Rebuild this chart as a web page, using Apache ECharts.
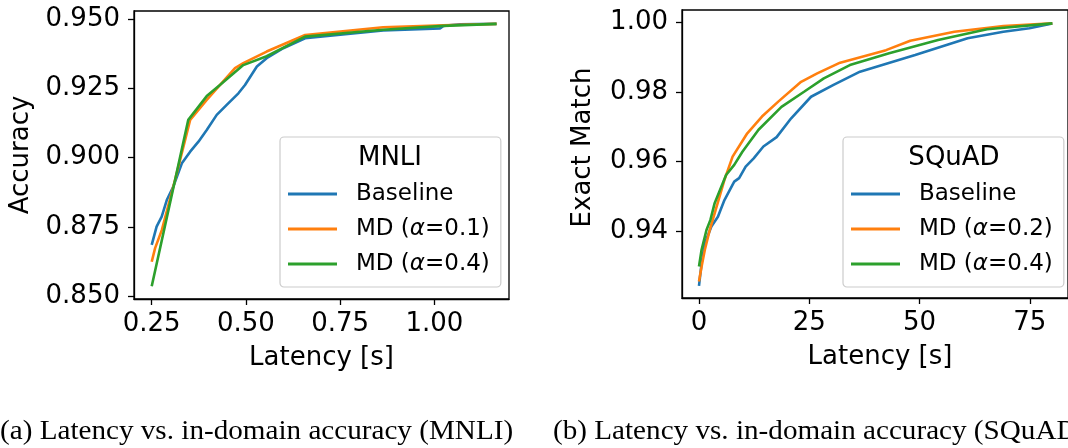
<!DOCTYPE html>
<html>
<head>
<meta charset="utf-8">
<script src="https://cdn.jsdelivr.net/npm/echarts@6/dist/echarts.min.js"></script>
<style>
html,body{margin:0;padding:0;background:#fff;}
#chart{width:1068px;height:448px;}
</style>
</head>
<body>
<div id="chart"></div>
<script>
// ---- MNLI (left) ----
const mnliBaselineX = [0.250, 0.263, 0.2765, 0.290, 0.307, 0.330, 0.352, 0.374, 0.396, 0.4225, 0.449, 0.480, 0.4975, 0.529, 0.555, 0.599, 0.657, 0.864, 1.015, 1.024, 1.068, 1.165];
const mnliBaselineY = [0.8685, 0.8751, 0.8787, 0.8847, 0.8895, 0.8980, 0.9022, 0.9058, 0.9100, 0.9155, 0.9191, 0.9233, 0.9263, 0.9330, 0.9360, 0.9396, 0.9432, 0.9460, 0.9468, 0.9477, 0.9483, 0.9484];
const mnliMd01X = [0.250, 0.259, 0.277, 0.312, 0.352, 0.396, 0.471, 0.493, 0.555, 0.657, 0.864, 1.024, 1.165];
const mnliMd01Y = [0.8624, 0.8673, 0.8739, 0.8920, 0.9137, 0.9209, 0.9324, 0.9342, 0.9384, 0.9444, 0.9472, 0.9479, 0.9484];
const mnliMd04X = [0.250, 0.347, 0.396, 0.431, 0.493, 0.555, 0.657, 0.864, 1.024, 1.165];
const mnliMd04Y = [0.8535, 0.9137, 0.9223, 0.9263, 0.9335, 0.9367, 0.9438, 0.9463, 0.9477, 0.9484];
const mnliXTicks = [0.25, 0.50, 0.75, 1.00];
const mnliYTicks = [0.850, 0.875, 0.900, 0.925, 0.950];

// ---- SQuAD (right) ----
const squadBaselineX = [0, 0.59, 1.33, 2.81, 4.29, 5.77, 7.99, 9.1, 10.58, 12.4, 14.6, 17.6, 20.9, 25.4, 30.5, 36.5, 49.0, 60.9, 69.0, 74.9, 80.1];
const squadBaselineY = [0.9242, 0.9307, 0.9365, 0.9413, 0.9441, 0.9489, 0.9542, 0.9552, 0.9585, 0.9609, 0.9643, 0.9670, 0.9724, 0.9786, 0.9820, 0.9858, 0.9906, 0.9954, 0.9973, 0.9983, 0.9997];
const squadMd02X = [0, 0.59, 1.33, 2.44, 3.55, 5.77, 7.62, 10.95, 14.28, 17.97, 23.15, 26.8, 32.0, 42.4, 47.9, 57.9, 69.0, 80.1];
const squadMd02Y = [0.9255, 0.9298, 0.9346, 0.9403, 0.9451, 0.9547, 0.9614, 0.9681, 0.9729, 0.9772, 0.9829, 0.9853, 0.9884, 0.9920, 0.9947, 0.9973, 0.9989, 0.9997];
const squadMd04X = [0, 0.59, 1.7, 2.59, 3.55, 6.14, 7.99, 9.84, 13.5, 18.7, 23.9, 28.3, 34.2, 43.1, 54.2, 65.3, 80.1];
const squadMd04Y = [0.9298, 0.9346, 0.9403, 0.9432, 0.9480, 0.9561, 0.9590, 0.9628, 0.9691, 0.9757, 0.9801, 0.9839, 0.9877, 0.9911, 0.9949, 0.9980, 0.9997];
const squadXTicks = [0, 25, 50, 75];
const squadYTicks = [0.94, 0.96, 0.98, 1.00];

const legendNamesMnli = ['Baseline', 'MD (α=0.1)', 'MD (α=0.4)'];
const legendNamesSquad = ['Baseline', 'MD (α=0.2)', 'MD (α=0.4) ']; // trailing space keeps names distinct
const captionA = '(a) Latency vs. in-domain accuracy (MNLI)';
const captionB = '(b) Latency vs. in-domain accuracy (SQuAD)';

const zip = (xs, ys) => xs.map((x, i) => [x, ys[i]]);
const FONT = 'DejaVu Sans';
const C = ['#1f77b4', '#ff7f0e', '#2ca02c'];

function xAxisCfg(gridIndex, min, max, ticks, fmt, pad) {
  return {
    type: 'value', gridIndex, min, max,
    name: 'Latency [s]', nameLocation: 'middle', nameGap: 46,
    nameTextStyle: {fontFamily: FONT, fontSize: 26, color: '#000', padding: pad},
    axisLine: {show: true, onZero: false, lineStyle: {color: '#000', width: 1.3}},
    axisTick: {show: true, length: 6, inside: false, customValues: ticks, lineStyle: {color: '#000', width: 1.3}},
    axisLabel: {show: true, customValues: ticks, formatter: fmt, fontFamily: FONT, fontSize: 26, color: '#000', margin: 12},
    splitLine: {show: false}
  };
}
function yAxisCfg(gridIndex, min, max, ticks, fmt, name, gap, pad) {
  return {
    type: 'value', gridIndex, min, max,
    name, nameLocation: 'middle', nameGap: gap,
    nameTextStyle: {fontFamily: FONT, fontSize: 26, color: '#000', padding: pad},
    axisLine: {show: true, onZero: false, lineStyle: {color: '#000', width: 1.3}},
    axisTick: {show: true, length: 6, inside: false, customValues: ticks, lineStyle: {color: '#000', width: 1.3}},
    axisLabel: {show: true, customValues: ticks, formatter: fmt, fontFamily: FONT, fontSize: 26, color: '#000', margin: 14},
    splitLine: {show: false}
  };
}
function lineSeries(name, xi, data, color, z) {
  return {
    type: 'line', name, xAxisIndex: xi, yAxisIndex: xi, data,
    showSymbol: false, symbol: 'none', smooth: false, z,
    lineStyle: {color, width: 2.6}, itemStyle: {color},
    emphasis: {disabled: true}, animation: false
  };
}
function legendFormatter(name) {
  const n = name.trim();
  const i = n.indexOf('α');
  if (i < 0) return '{p|' + n + '}';
  return '{p|' + n.slice(0, i) + '}{a|α}{n|' + n.slice(i + 1) + '}';
}
const legendText = {
  fontFamily: FONT, fontSize: 23, color: '#000', lineHeight: 26,
  rich: {
    p: {fontFamily: FONT, fontSize: 23, color: '#000', padding: [0, 0, 0, 14]},
    a: {fontFamily: FONT, fontSize: 23, color: '#000', fontStyle: 'italic'},
    n: {fontFamily: FONT, fontSize: 23, color: '#000'}
  }
};
function legendCfg(left, names) {
  return {
    left, top: 137, orient: 'vertical', data: names,
    icon: 'rect', itemWidth: 49, itemHeight: 3, itemGap: 9,
    padding: [44, 11, 10, 8],
    backgroundColor: 'rgba(255,255,255,0.8)', borderColor: '#cccccc', borderWidth: 1.2, borderRadius: 4,
    formatter: legendFormatter, textStyle: legendText,
    selectedMode: false
  };
}

const chart = echarts.init(document.getElementById('chart'), null, {renderer: 'canvas'});
chart.setOption({
  animation: false,
  backgroundColor: '#fff',
  grid: [
    {left: 134, right: 559, top: 11, bottom: 149, show: true, borderColor: '#000', borderWidth: 1.3, containLabel: false},
    {left: 682, right: -8, top: 10, bottom: 150, show: true, borderColor: '#000', borderWidth: 1.3, containLabel: false}
  ],
  xAxis: [
    xAxisCfg(0, 0.203, 1.198, mnliXTicks, v => v.toFixed(2), [0, 0, 0, 0]),
    xAxisCfg(1, -3.85, 83.65, squadXTicks, v => String(Math.round(v)), [0, 0, 0, 10])
  ],
  yAxis: [
    yAxisCfg(0, 0.84891, 0.95307, mnliYTicks, v => v.toFixed(3), 'Accuracy', 100, [0, 0, 0, 0]),
    yAxisCfg(1, 0.92074, 1.00354, squadYTicks, v => v.toFixed(2), 'Exact Match', 86, [0, 0, 0, 13])
  ],
  legend: [legendCfg(280, legendNamesMnli), legendCfg(843, legendNamesSquad)],
  series: [
    lineSeries(legendNamesMnli[0], 0, zip(mnliBaselineX, mnliBaselineY), C[0], 2),
    lineSeries(legendNamesMnli[1], 0, zip(mnliMd01X, mnliMd01Y), C[1], 3),
    lineSeries(legendNamesMnli[2], 0, zip(mnliMd04X, mnliMd04Y), C[2], 4),
    lineSeries(legendNamesSquad[0], 1, zip(squadBaselineX, squadBaselineY), C[0], 2),
    lineSeries(legendNamesSquad[1], 1, zip(squadMd02X, squadMd02Y), C[1], 3),
    lineSeries(legendNamesSquad[2], 1, zip(squadMd04X, squadMd04Y), C[2], 4)
  ],
  graphic: [
    {type: 'text', z: 100, x: 390, y: 158, style: {text: 'MNLI', fontFamily: FONT, fontSize: 26, fill: '#000', textAlign: 'center', textVerticalAlign: 'middle'}},
    {type: 'text', z: 100, x: 954, y: 158, style: {text: 'SQuAD', fontFamily: FONT, fontSize: 26, fill: '#000', textAlign: 'center', textVerticalAlign: 'middle'}},
    {type: 'text', z: 100, x: 0, y: 432, scaleX: 1.06, style: {text: captionA, fontFamily: 'Liberation Serif', fontSize: 27.5, fill: '#000', textAlign: 'left', textVerticalAlign: 'middle'}},
    {type: 'text', z: 100, x: 553, y: 432, scaleX: 1.06, style: {text: captionB, fontFamily: 'Liberation Serif', fontSize: 27.5, fill: '#000', textAlign: 'left', textVerticalAlign: 'middle'}}
  ]
});
</script>
</body>
</html>
